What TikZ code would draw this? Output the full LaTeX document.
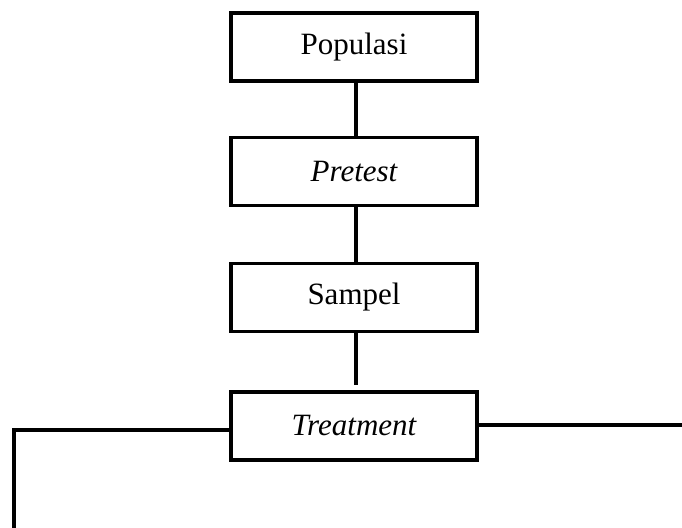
\documentclass[tikz,border=0pt]{standalone}
\usepackage{fontspec}
\setmainfont{Liberation Serif}
\begin{document}
\begin{tikzpicture}[x=1pt,y=-1pt,
  stepbox/.style={draw,line width=3.5pt,minimum width=246pt,minimum height=68pt,inner sep=0pt,font=\fontsize{31}{36}\selectfont},
  conn/.style={line width=3.5pt}]
\useasboundingbox (0,0) rectangle (682,527);
\node[stepbox] (pop) at (354,47) {Populasi};
\node[stepbox] (pre) at (354,171.5) {\itshape Pretest};
\node[stepbox] (sam) at (354,297.5) {Sampel};
\node[stepbox] (tre) at (354,426) {\itshape Treatment};
\coordinate (lb) at (14,530);
\coordinate (re) at (684,425);
\draw[conn] ([xshift=2pt]pop.south) -- ([xshift=2pt]pre.north);
\draw[conn] ([xshift=2pt]pre.south) -- ([xshift=2pt]sam.north);
\draw[conn] ([xshift=2pt]sam.south) -- ([xshift=2pt,yshift=5pt]tre.north);
\draw[conn] ([yshift=-4pt]tre.west) -| (lb);
\draw[conn] ([yshift=1pt]tre.east) -- ([yshift=1pt]tre.east -| re);
\end{tikzpicture}
\end{document}
